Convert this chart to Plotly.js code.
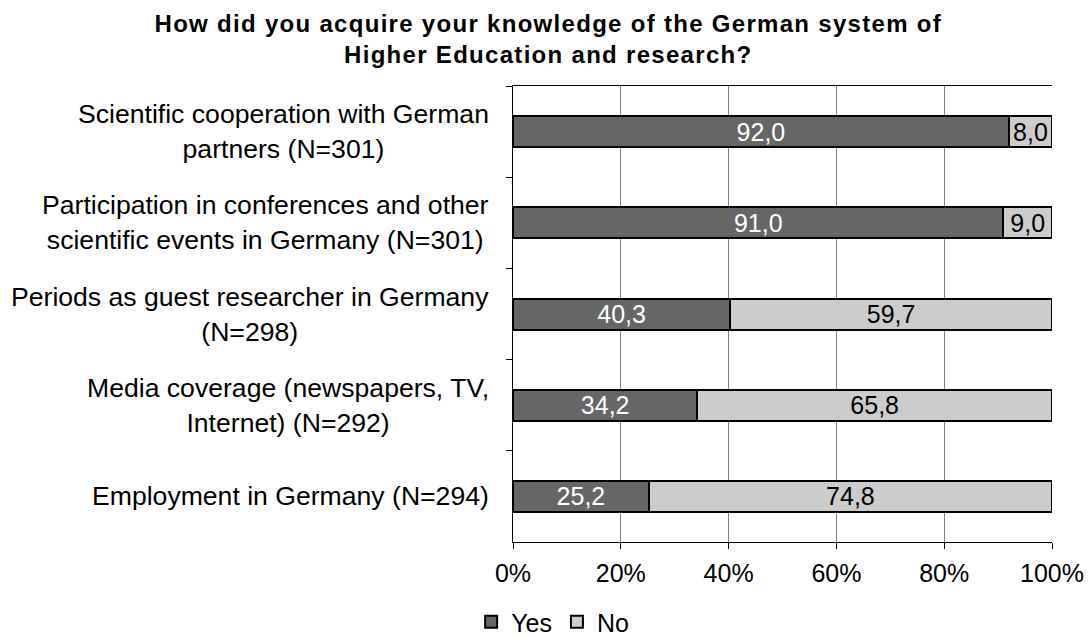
<!DOCTYPE html>
<html>
<head>
<meta charset="utf-8">
<script src="https://cdn.plot.ly/plotly-3.0.1.min.js"></script>
<style>
html,body{margin:0;padding:0;background:#fff;}
#chart{width:1090px;height:638px;}
.gtitle{letter-spacing:1.3px;}
</style>
</head>
<body>
<div id="chart"></div>
<script>
var categories = [
  "Scientific cooperation with German<br>partners (N=301)",
  "Participation in conferences and other<br>scientific events in Germany (N=301)",
  "Periods as guest researcher in Germany<br>(N=298)",
  "Media coverage (newspapers, TV,<br>Internet) (N=292)",
  "Employment in Germany (N=294)"
];
var catKeys = ["c1", "c2", "c3", "c4", "c5"];
var yesValues = [92.0, 91.0, 40.3, 34.2, 25.2];
var noValues = [8.0, 9.0, 59.7, 65.8, 74.8];
var xTicks = [0, 20, 40, 60, 80, 100];
var xTickLabels = ["0%", "20%", "40%", "60%", "80%", "100%"];

var FONT = "Liberation Sans, Arial, sans-serif";

var traces = [
  {
    type: "bar", orientation: "h", name: "Yes",
    y: catKeys, x: yesValues,
    marker: {color: "#666666", line: {color: "#000000", width: 2}},
    texttemplate: "%{x:.1f}", textposition: "inside", insidetextanchor: "middle",
    constraintext: "none",
    textfont: {family: FONT, size: 25, color: "#ffffff"},
    hoverinfo: "skip"
  },
  {
    type: "bar", orientation: "h", name: "No",
    y: catKeys, x: noValues,
    marker: {color: "#cccccc", line: {color: "#000000", width: 2}},
    texttemplate: "%{x:.1f}", textposition: "inside", insidetextanchor: "middle",
    constraintext: "none",
    textfont: {family: FONT, size: 25, color: "#000000"},
    hoverinfo: "skip"
  }
];

var annotations = categories.map(function (c, i) {
  return {
    xref: "paper", yref: "y", x: 0, y: catKeys[i],
    xanchor: "right", yanchor: "middle", xshift: -22,
    align: "center", showarrow: false, text: c,
    font: {family: FONT, size: 26.6, color: "#000000"}
  };
});

var layout = {
  width: 1090, height: 638,
  margin: {l: 513, r: 38, t: 86, b: 96, pad: 0},
  paper_bgcolor: "#ffffff", plot_bgcolor: "#ffffff",
  separators: ",.",
  barmode: "stack", bargap: 0.66,
  font: {family: FONT, size: 25, color: "#000000"},
  title: {
    text: "<b>How did you acquire your knowledge of the German system of<br>Higher Education and research?</b>",
    font: {family: FONT, size: 24, color: "#000000"},
    x: 0.503, xref: "container", xanchor: "center",
    y: 0.95, yref: "container", yanchor: "top"
  },
  xaxis: {
    range: [0, 100], tickmode: "array", tickvals: xTicks, ticktext: xTickLabels,
    showgrid: true, gridcolor: "#808080", gridwidth: 1,
    zeroline: false, showline: true, linecolor: "#000000", linewidth: 1, mirror: true,
    ticks: "outside", ticklen: 6, tickcolor: "#000000", ticklabelstandoff: 3,
    tickfont: {family: FONT, size: 25, color: "#000000"}
  },
  yaxis: {
    categoryorder: "array", categoryarray: catKeys, autorange: "reversed",
    showticklabels: false, showgrid: false, zeroline: false,
    showline: true, linecolor: "#000000", linewidth: 1,
    ticks: "outside", tickson: "boundaries", ticklen: 6, tickcolor: "#000000"
  },
  legend: {
    orientation: "h", traceorder: "normal",
    xref: "container", yref: "container", x: 0.507, y: 0.025,
    xanchor: "center", yanchor: "middle",
    font: {family: FONT, size: 25, color: "#000000"},
    itemwidth: 30, tracegroupgap: 0
  },
  showlegend: true,
  annotations: annotations
};

Plotly.newPlot("chart", traces, layout, {displayModeBar: false, staticPlot: true});
</script>
</body>
</html>
